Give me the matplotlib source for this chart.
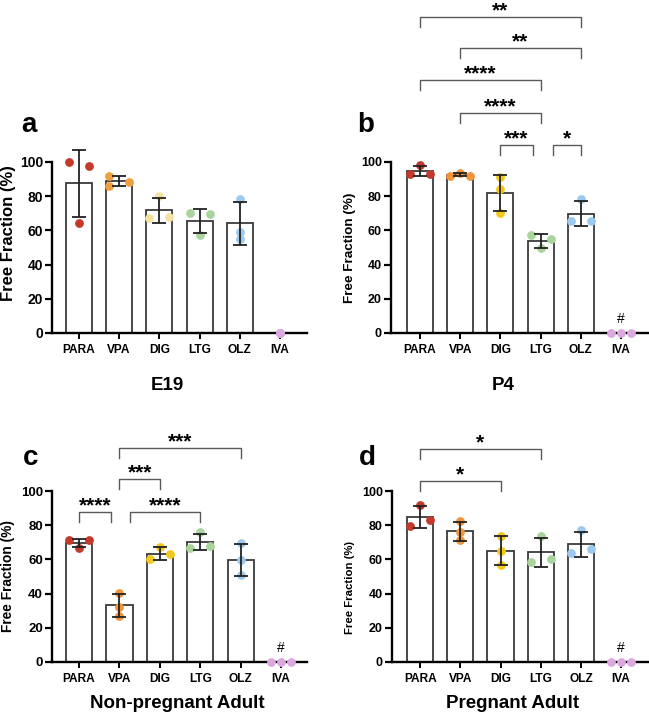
import numpy as np
import matplotlib
matplotlib.use('Agg')
import matplotlib.pyplot as plt

plt.rcParams['font.family'] = ['Liberation Sans', 'DejaVu Sans']
plt.rcParams['font.weight'] = 'bold'

drugs = ['PARA', 'VPA', 'DIG', 'LTG', 'OLZ', 'IVA']

# free fraction (%) of each replicate
e19 = [[100, 97.7, 64.6], [92, 88.5, 86], [80, 67, 68],
       [70.2, 69.3, 57.3], [78.3, 59.2, 54.7], [0, 0, 0]]
p4 = [[98, 93.2, 93.2], [93.6, 92, 92], [91.2, 84.4, 70.2],
      [57.3, 55.2, 49.5], [78.6, 65.3, 65.7], [0, 0, 0]]
nonpreg = [[71.1, 71.1, 66.8], [40.2, 32.2, 27.1], [60, 67.2, 62.9],
           [75.8, 66.8, 68], [69.3, 59.4, 50.6], [0, 0, 0]]
preg = [[91.8, 79.7, 83], [82.4, 75.8, 71.1], [73.8, 65, 56.8],
        [73.8, 58.4, 60.2], [77.1, 63.7, 65.8], [0, 0, 0]]

# significance comparisons: (group1, group2, label)
cmp_p4 = [(0, 4, '**'), (1, 4, '**'), (0, 3, '****'), (1, 3, '****'),
          (2, 3, '***'), (3, 4, '*')]
cmp_nonpreg = [(1, 4, '***'), (1, 2, '***'), (0, 1, '****'), (1, 3, '****')]
cmp_preg = [(0, 3, '*'), (0, 2, '*')]

colors = ['#C4392A', '#F0953A', '#F2C81A', '#A9D49C', '#9DC9EF', '#DCA8DF']
colors_e19 = ['#C4392A', '#F0A040', '#F3E2A2', '#A9D49C', '#9DC9EF', '#DCA8DF']

# horizontal placement of the dots (-1 left, 0 centre, 1 right)
jit_e19 = [[-1, 1, 0], [-1, 1, -1], [0, -1, 1], [-1, 1, 0], [0, 0, 0], [0, 0, 0]]
jit_p4 = [[0, -1, 1], [0, -1, 1], [0, 0, 0], [-1, 1, 0], [0, -1, 1], [-1, 0, 1]]
jit_nonpreg = [[-1, 1, 0], [0, 0, 0], [-1, 0, 1], [0, -1, 1], [0, 0, 0], [-1, 0, 1]]
jit_preg = [[0, -1, 1], [0, 0, 0], [0, 0, 0], [0, -1, 1], [0, -1, 1], [-1, 0, 1]]

W, H = 649, 723
fig = plt.figure(figsize=(W / 100, H / 100), dpi=100)


def px_axes(x0, x1, y_top, y_bot):
    return fig.add_axes([x0 / W, 1 - y_bot / H, (x1 - x0) / W, (y_bot - y_top) / H])


def draw(ax, data, jit, cols, xlim, tick_fs, hash_mark):
    x = np.arange(len(drugs))
    means = np.array([np.mean(v) for v in data])
    sds = np.array([np.std(v, ddof=1) for v in data])
    ax.bar(x, means, width=0.65, color='white', edgecolor='#3a3a3a',
           linewidth=1.3, zorder=2)
    for i, v in enumerate(data):
        xs = i + 0.25 * np.array(jit[i])
        ax.scatter(xs, v, s=40, color=cols[i], linewidths=0, zorder=3, clip_on=False)
    nz = means > 0
    ax.errorbar(x[nz], means[nz], yerr=sds[nz], fmt='none', ecolor='#222222',
                elinewidth=1.3, capsize=5, capthick=1.3, zorder=4, clip_on=False)
    ax.set_xlim(*xlim)
    ax.set_ylim(0, 100)
    ax.set_xticks(x)
    ax.set_xticklabels(drugs, fontsize=8.6, fontweight='bold')
    ax.set_yticks(range(0, 101, 20))
    ax.tick_params(axis='y', labelsize=tick_fs, length=5, width=1.6, pad=1.5)
    ax.tick_params(axis='x', length=4, width=1.4, pad=4)
    for lab in ax.get_yticklabels():
        lab.set_fontweight('bold')
    for s in ['top', 'right']:
        ax.spines[s].set_visible(False)
    for s in ['left', 'bottom']:
        ax.spines[s].set_linewidth(1.7)
    if hash_mark:
        ax.annotate('#', xy=(5, 0), xytext=(0, 5), textcoords='offset points',
                    ha='center', va='bottom', fontsize=10, fontweight='normal')


def brackets(ax, comps, heights, shrink=None, drop=5.8):
    shrink = shrink or {}
    for (i, j, lab), y in zip(comps, heights):
        a, b = shrink.get((i, j), (0, 0))
        x1, x2 = i + a, j - b
        ax.plot([x1, x1, x2, x2], [y - drop, y, y, y - drop], color='#5a5a5a',
                lw=1.0, clip_on=False)
        ax.annotate(lab, xy=((x1 + x2) / 2, y), xytext=(0, 0.5),
                    textcoords='offset points', ha='center', va='baseline',
                    fontsize=15, fontweight='bold', annotation_clip=False)


ax_a = px_axes(52, 307, 162, 333)
draw(ax_a, e19, jit_e19, colors_e19, (-0.67, 5.67), 10, False)

ax_b = px_axes(391, 648, 162, 333)
draw(ax_b, p4, jit_p4, colors, (-0.72, 5.67), 9, True)
brackets(ax_b, cmp_p4, [185, 166.7, 148, 128.7, 110, 110],
         {(2, 3): (0, 0.2), (3, 4): (0.3, 0)})

ax_c = px_axes(52, 307, 491, 662)
draw(ax_c, nonpreg, jit_nonpreg, colors, (-0.67, 5.64), 9.5, True)
brackets(ax_c, cmp_nonpreg, [125, 106.8, 87.9, 87.9],
         {(0, 1): (0, 0.22), (1, 3): (0.25, 0)})

ax_d = px_axes(392, 648, 491, 662)
draw(ax_d, preg, jit_preg, colors, (-0.7, 5.67), 9, True)
brackets(ax_d, cmp_preg, [124.4, 106])

# y labels
for (xp, yp, fs) in [(9, 233, 12), (350, 248, 9.7), (8, 576, 9.9), (350, 587, 8.2)]:
    fig.text(xp / W, 1 - yp / H, 'Free Fraction (%)', rotation=90, ha='center',
             va='center', fontsize=fs, fontweight='bold')

# panel letters
for (xp, yp, t) in [(21, 132, 'a'), (357, 132, 'b'), (23, 465, 'c'), (359, 465, 'd')]:
    fig.text(xp / W, 1 - yp / H, t, ha='left', va='baseline', fontsize=20,
             fontweight='bold')

# group titles
for (xp, yp, t) in [(167, 385, 'E19'), (503, 385, 'P4'),
                    (177, 704, 'Non-pregnant Adult'), (513, 704, 'Pregnant Adult')]:
    fig.text(xp / W, 1 - yp / H, t, ha='center', va='center', fontsize=13.5,
             fontweight='bold')

fig.savefig('out.png', dpi=100)
